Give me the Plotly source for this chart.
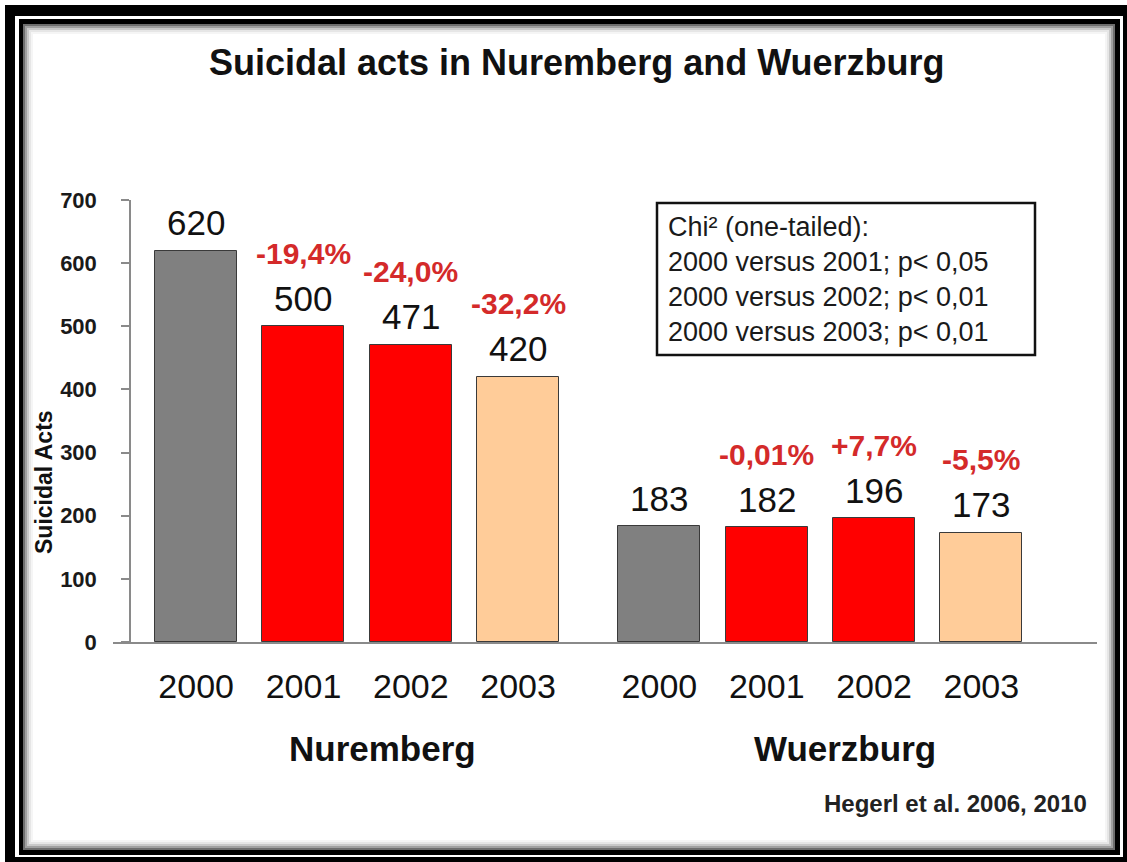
import plotly.graph_objects as go

# ---------------- data ----------------
groups = ["Nuremberg", "Wuerzburg"]
years = ["2000", "2001", "2002", "2003"]
nuremberg = [620, 500, 471, 420]
wuerzburg = [183, 182, 196, 173]
nuremberg_change = ["", "-19,4%", "-24,0%", "-32,2%"]
wuerzburg_change = ["", "-0,01%", "+7,7%", "-5,5%"]
year_colors = ["#808080", "#FF0000", "#FF0000", "#FFCC99"]
chi_lines = ["Chi² (one-tailed):",
             "2000 versus 2001; p< 0,05",
             "2000 versus 2002; p< 0,01",
             "2000 versus 2003; p< 0,01"]
title_text = "Suicidal acts in Nuremberg and Wuerzburg"
source_text = "Hegerl et al. 2006, 2010"
y_title = "Suicidal Acts"

# ---------------- layout geometry ----------------
W, H = 1127, 862
ML, MR, MT, MB = 113, 30, 200, 220
PW, PH = W - ML - MR, H - MT - MB
GROUP_GAP = 0.317
BAR_W = 0.764
XR = [-0.775, 8.395]

def px2x(px):
    return (px - ML) / PW

def py2y(py):
    return (H - MB - py) / PH

series = [nuremberg, wuerzburg]
changes = [nuremberg_change, wuerzburg_change]

xs, ys, cols, tick_text = [], [], [], []
for g, vals in enumerate(series):
    for k, v in enumerate(vals):
        xs.append(g * (len(years) + GROUP_GAP) + k)
        ys.append(v)
        cols.append(year_colors[k])
        tick_text.append(years[k])

FONT = "Liberation Sans, Arial, sans-serif"

fig = go.Figure()
fig.add_trace(go.Bar(
    x=xs, y=ys, width=BAR_W,
    marker=dict(color=cols, line=dict(color="#3a3a3a", width=1)),
    hoverinfo="skip", showlegend=False,
))

annotations = []
i = 0
for g, vals in enumerate(series):
    for k, v in enumerate(vals):
        annotations.append(dict(
            x=xs[i], y=v, xref="x", yref="y", text=str(v), showarrow=False,
            yanchor="middle", yshift=28,
            font=dict(family=FONT, size=35, color="#111111")))
        if changes[g][k]:
            annotations.append(dict(
                x=xs[i], y=v, xref="x", yref="y", text="<b>" + changes[g][k] + "</b>",
                showarrow=False, yanchor="middle", yshift=73,
                font=dict(family=FONT, size=30, color="#D42A2A")))
        i += 1

# group labels
for g, name in enumerate(groups):
    gx = sum(xs[g * len(years):(g + 1) * len(years)]) / len(years)
    annotations.append(dict(
        x=gx, y=py2y(748), xref="x", yref="paper", text="<b>" + name + "</b>",
        showarrow=False, yanchor="middle", xshift=25,
        font=dict(family=FONT, size=35, color="#111111")))

# title
annotations.append(dict(
    x=px2x(576), y=py2y(62), xref="paper", yref="paper", text="<b>" + title_text + "</b>",
    showarrow=False, xanchor="center", yanchor="middle",
    font=dict(family=FONT, size=36, color="#111111")))

# y-axis title
annotations.append(dict(
    x=px2x(44), y=py2y(482), xref="paper", yref="paper", text="<b>" + y_title + "</b>",
    showarrow=False, textangle=-90, xanchor="center", yanchor="middle",
    font=dict(family=FONT, size=23, color="#111111")))

# source
annotations.append(dict(
    x=px2x(1089), y=py2y(803), xref="paper", yref="paper", text="<b>" + source_text + "</b>",
    showarrow=False, xanchor="right", yanchor="middle",
    font=dict(family=FONT, size=24, color="#222222")))

# chi box text
annotations.append(dict(
    x=px2x(666), y=py2y(279), xref="paper", yref="paper", text="<br>".join(chi_lines),
    showarrow=False, xanchor="left", yanchor="middle", align="left",
    font=dict(family=FONT, size=27, color="#1a1a1a")))

shapes = []

def rect(x0, y0, x1, y1, **kw):
    d = dict(type="rect", xref="paper", yref="paper",
             x0=px2x(x0), x1=px2x(x1), y0=py2y(y1), y1=py2y(y0), layer="below")
    d.update(kw)
    shapes.append(d)

# frame
rect(5, 5, 1140, 880, fillcolor="black", line=dict(width=0))
rect(15, 16, 1123, 857, fillcolor="white", line=dict(width=0))
rect(19, 19, 1120, 855, fillcolor="black", line=dict(width=0))
rect(23, 24, 1115, 850, fillcolor="white", line=dict(width=0))
for inset, c in [(1, "#6e6e6e"), (3, "#a0a0a0"), (5, "#c8c8c8"), (7, "#e6e6e6"), (9, "#f5f5f5")]:
    rect(23 + inset, 24 + inset, 1115 - inset, 850 - inset,
         fillcolor="rgba(0,0,0,0)", line=dict(color=c, width=2))

# chi box
rect(657, 203, 1035, 355, fillcolor="white", line=dict(color="#111111", width=2.5))

fig.update_layout(
    width=W, height=H,
    margin=dict(l=ML, r=MR, t=MT, b=MB, pad=0),
    paper_bgcolor="white", plot_bgcolor="rgba(0,0,0,0)",
    font=dict(family=FONT),
    bargap=0,
    shapes=shapes,
    annotations=annotations,
    xaxis=dict(
        range=XR, domain=[0, 1], showgrid=False, zeroline=False,
        showline=True, linecolor="#8a8a8a", linewidth=1.5,
        tickmode="array", tickvals=xs, ticktext=tick_text, ticks="",
        tickfont=dict(family=FONT, size=34, color="#111111"),
        ticklabelstandoff=13,
    ),
    yaxis=dict(
        range=[0, 700], anchor="free", position=px2x(130),
        showgrid=False, zeroline=False,
        showline=True, linecolor="#8a8a8a", linewidth=1.5,
        ticks="outside", ticklen=8, tickcolor="#8a8a8a", tickwidth=1.5,
        dtick=100, tick0=0,
        tickfont=dict(family=FONT, size=22, color="#1a1a1a"),
        tickprefix="<b>", ticksuffix="</b>",
        ticklabelstandoff=20,
    ),
)

fig.write_html("out.html")
